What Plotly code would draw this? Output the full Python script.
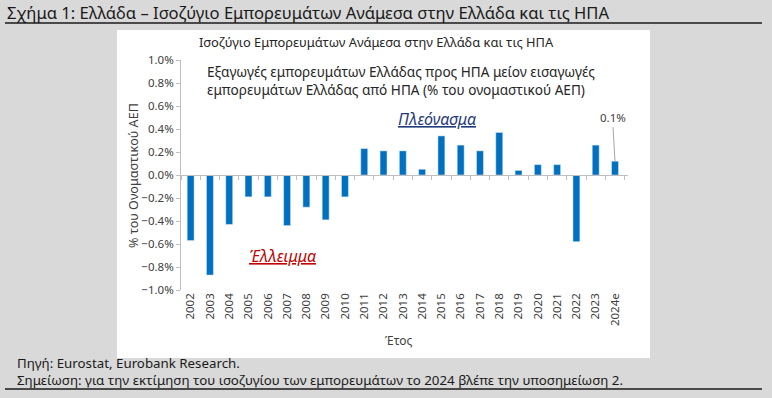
import plotly.graph_objects as go

years = ["2002", "2003", "2004", "2005", "2006", "2007", "2008", "2009", "2010", "2011",
         "2012", "2013", "2014", "2015", "2016", "2017", "2018", "2019", "2020", "2021",
         "2022", "2023", "2024e"]
balance = [-0.57, -0.87, -0.43, -0.19, -0.19, -0.44, -0.28, -0.39, -0.19, 0.23,
           0.21, 0.21, 0.05, 0.34, 0.26, 0.21, 0.37, 0.04, 0.09, 0.09,
           -0.58, 0.26, 0.12]
balance_frac = [v / 100 for v in balance]
y_ticks = [-0.010, -0.008, -0.006, -0.004, -0.002, 0.0, 0.002, 0.004, 0.006, 0.008, 0.010]
last_label = "0.1%"

W, H = 772, 398
L, R, T, B = 181, 628, 60, 290
pw, ph = R - L, B - T

def px(x):
    return (x - L) / pw

def py(y):
    return (B - y) / ph

FONT = "Noto Sans"
BAR = "#0070C0"

fig = go.Figure()
fig.add_trace(go.Bar(x=years, y=balance_frac, marker_color=BAR, width=0.36,
                     xaxis="x", yaxis="y", showlegend=False, hoverinfo="x+y"))
# invisible trace on the zero-line axis
fig.add_trace(go.Scatter(x=years, y=[None] * len(years), xaxis="x2", yaxis="y",
                         showlegend=False, hoverinfo="skip"))

fig.update_layout(
    width=W, height=H,
    margin=dict(l=L, r=W - R, t=T, b=H - B, autoexpand=False),
    paper_bgcolor="#d9d9d9", plot_bgcolor="white",
    font=dict(family=FONT, color="#404040", size=11),
    xaxis=dict(type="category", categoryorder="array", categoryarray=years,
               tickangle=-90, showline=False, ticks="", showgrid=False,
               tickfont=dict(size=11.5, color="#404040"), zeroline=False),
    xaxis2=dict(type="category", categoryorder="array", categoryarray=years,
                overlaying="x", anchor="free", position=0.5,
                showline=True, linecolor="#bfbfbf", linewidth=1,
                ticks="outside", ticklen=4, tickcolor="#bfbfbf", tickson="boundaries",
                showticklabels=False, showgrid=False, zeroline=False, matches="x"),
    yaxis=dict(range=[-0.010, 0.010], tickvals=y_ticks, tickformat=".1%",
               showline=True, linecolor="#bfbfbf", ticks="outside", ticklen=4,
               tickcolor="#bfbfbf", showgrid=False, zeroline=False,
               tickfont=dict(size=11.5, color="#404040")),
    bargap=0.6,
)

shapes = [
    # white chart panel
    dict(type="rect", xref="paper", yref="paper", x0=px(117), x1=px(650),
         y0=py(358), y1=py(30), fillcolor="white", line=dict(width=0), layer="below"),
    # header rule
    dict(type="line", xref="paper", yref="paper", x0=px(5), x1=px(762),
         y0=py(23), y1=py(23), line=dict(color="#1a1a1a", width=1.3)),
    # bottom rule
    dict(type="line", xref="paper", yref="paper", x0=px(5), x1=px(762),
         y0=py(389), y1=py(389), line=dict(color="#1a1a1a", width=1.3)),
]
fig.update_layout(shapes=shapes)

ann = []
ann.append(dict(xref="paper", yref="paper", x=px(5), y=py(12), xanchor="left", yanchor="middle",
                text="Σχήμα 1: Ελλάδα – Ισοζύγιο Εμπορευμάτων Ανάμεσα στην Ελλάδα και τις ΗΠΑ",
                showarrow=False, font=dict(family=FONT, size=16.6, color="#1a1a1a")))
ann.append(dict(xref="paper", yref="paper", x=px(376), y=py(42), xanchor="center", yanchor="middle",
                text="Ισοζύγιο Εμπορευμάτων Ανάμεσα στην Ελλάδα και τις ΗΠΑ",
                showarrow=False, font=dict(family=FONT, size=12.9, color="#262626")))
ann.append(dict(xref="paper", yref="paper", x=px(205), y=py(80), xanchor="left", yanchor="middle",
                align="left",
                text="Εξαγωγές εμπορευμάτων Ελλάδας προς ΗΠΑ μείον εισαγωγές<br>εμπορευμάτων Ελλάδας από ΗΠΑ (% του ονομαστικού ΑΕΠ)",
                showarrow=False, font=dict(family=FONT, size=13.6, color="#262626")))
ann.append(dict(xref="paper", yref="paper", x=px(437), y=py(119), xanchor="center", yanchor="middle",
                text="<i><u>Πλεόνασμα</u></i>", showarrow=False,
                font=dict(family=FONT, size=16, color="#1F3A7A")))
ann.append(dict(xref="paper", yref="paper", x=px(282), y=py(256), xanchor="center", yanchor="middle",
                text="<i><u>Έλλειμμα</u></i>", showarrow=False,
                font=dict(family=FONT, size=16, color="#C00000")))
ann.append(dict(xref="x", yref="y", x=years[-1], y=balance_frac[-1], text=last_label,
                showarrow=True, arrowhead=0, arrowwidth=1, arrowcolor="#a6a6a6",
                ax=-2, ay=-34, standoff=0, font=dict(family=FONT, size=11.5, color="#404040"),
                yanchor="bottom"))
ann.append(dict(xref="paper", yref="paper", x=px(133), y=py(176), xanchor="center", yanchor="middle",
                text="% του Ονομαστικού ΑΕΠ", textangle=-90, showarrow=False,
                font=dict(family=FONT, size=12.6, color="#404040")))
ann.append(dict(xref="paper", yref="paper", x=px(399), y=py(340), xanchor="center", yanchor="middle",
                text="Έτος", showarrow=False, font=dict(family=FONT, size=12, color="#404040")))
ann.append(dict(xref="paper", yref="paper", x=px(15), y=py(371.5), xanchor="left", yanchor="middle",
                align="left",
                text="Πηγή: Eurostat, Eurobank Research.<br>"
                     "Σημείωση: για την εκτίμηση του ισοζυγίου των εμπορευμάτων το 2024 βλέπε την υποσημείωση 2.",
                showarrow=False, font=dict(family=FONT, size=13.3, color="#1a1a1a")))
fig.update_layout(annotations=ann)

fig.write_html("out.html", config={"displayModeBar": False},
               post_script="document.body.style.margin='0px';")
